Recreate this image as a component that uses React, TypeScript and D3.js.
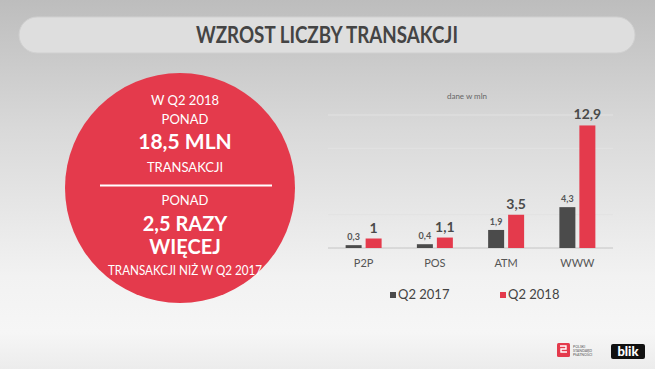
import React from "react";
import * as d3 from "d3";

// values (mln transactions)
const categories = ["P2P", "POS", "ATM", "WWW"];
const q2017 = [0.3, 0.4, 1.9, 4.3];
const q2018 = [1, 1.1, 3.5, 12.9];
const seriesNames = ["Q2 2017", "Q2 2018"];
const gridTicks = [0, 3.5, 7, 10.5, 14];

const W = 655;
const H = 369;
const DARK = "#4b4b4b";
const RED = "#e43a4c";
const FONT = "Lato, 'Open Sans', sans-serif";

const fmt = (v: number) => d3.format("~g")(v).replace(".", ",");

function App() {
  const x0 = d3
    .scaleBand<string>()
    .domain(categories)
    .range([328, 613])
    .paddingInner(0.495)
    .paddingOuter(0.2475);
  const x1 = d3
    .scaleBand<string>()
    .domain(seriesNames)
    .range([0, x0.bandwidth()])
    .paddingInner(0.2);
  const y = d3.scaleLinear().domain([0, 14]).range([248, 115]);

  const rows = categories.map((c, i) => ({ cat: c, vals: [q2017[i], q2018[i]] }));

  return (
    <div style={{ position: "fixed", left: 0, top: 0 }}>
      <svg width={W} height={H} style={{ display: "block" }}>
        <defs>
          <linearGradient id="bg" x1="0" y1="0" x2="0" y2="1">
            <stop offset="0%" stopColor="#bdbdbd" />
            <stop offset="35%" stopColor="#d9d9d9" />
            <stop offset="75%" stopColor="#f2f2f2" />
            <stop offset="90%" stopColor="#f6f6f6" />
            <stop offset="100%" stopColor="#ececec" />
          </linearGradient>
        </defs>
        <rect width={W} height={H} fill="url(#bg)" />

        {/* title pill */}
        <rect x={19} y={17} width={616} height={36} rx={18} fill="#dedede" stroke="#d0d0d0" />
        <text
          x={327}
          y={43}
          textAnchor="middle"
          fontFamily={FONT}
          fontWeight={700}
          fontSize={23}
          fill="#444"
          textLength={262}
          lengthAdjust="spacingAndGlyphs"
        >
          WZROST LICZBY TRANSAKCJI
        </text>

        {/* red circle */}
        <circle cx={180} cy={188} r={115} fill={RED} />
        <g fill="#fff" fontFamily={FONT} textAnchor="middle">
          <text x={185} y={105} fontSize={13}>W Q2 2018</text>
          <text x={185} y={124} fontSize={13}>PONAD</text>
          <text x={185} y={149} fontSize={21} fontWeight={700}>18,5 MLN</text>
          <text x={185} y={172} fontSize={13}>TRANSAKCJI</text>
          <line x1={100} x2={272} y1={185.5} y2={185.5} stroke="#fff" strokeWidth={2.2} />
          <text x={185} y={205} fontSize={13}>PONAD</text>
          <text x={185} y={231} fontSize={20} fontWeight={700}>2,5 RAZY</text>
          <text x={185} y={254} fontSize={20} fontWeight={700}>WIĘCEJ</text>
          <text x={185} y={275} fontSize={13} textLength={154} lengthAdjust="spacingAndGlyphs">
            TRANSAKCJI NIŻ W Q2 2017
          </text>
        </g>

        {/* chart */}
        <text x={467} y={99} textAnchor="middle" fontFamily={FONT} fontSize={8} fill="#666">
          dane w mln
        </text>
        {gridTicks.map((t) => (
          <line
            key={t}
            x1={328}
            x2={613}
            y1={y(t)}
            y2={y(t)}
            stroke={t === 0 ? "#c4c4c4" : "#e2e2e2"}
            strokeWidth={1}
          />
        ))}
        {rows.map((r) => (
          <g key={r.cat} transform={`translate(${x0(r.cat)},0)`}>
            {r.vals.map((v, j) => {
              const bx = x1(seriesNames[j])!;
              return (
                <g key={j}>
                  <rect
                    x={bx}
                    y={y(v)}
                    width={x1.bandwidth()}
                    height={y(0) - y(v)}
                    fill={j === 0 ? DARK : RED}
                  />
                  <text
                    x={bx + x1.bandwidth() / 2}
                    y={y(v) - (j === 0 ? 5 : 6)}
                    textAnchor="middle"
                    fontFamily={FONT}
                    fontWeight={700}
                    fontSize={j === 0 ? 9 : 14}
                    fill={j === 0 ? "#555" : "#4a4a4a"}
                  >
                    {fmt(v)}
                  </text>
                </g>
              );
            })}
            <text
              x={x0.bandwidth() / 2}
              y={267}
              textAnchor="middle"
              fontFamily={FONT}
              fontSize={11}
              fill="#555"
            >
              {r.cat}
            </text>
          </g>
        ))}

        {/* legend */}
        {seriesNames.map((s, i) => (
          <g key={s} transform={`translate(${390 + i * 110},292)`}>
            <rect width={6} height={6} fill={i === 0 ? DARK : RED} />
            <text x={8} y={7} fontFamily={FONT} fontSize={13} fill="#444">
              {s}
            </text>
          </g>
        ))}

        {/* logos */}
        <rect x={557} y={343} width={13} height={14} rx={1.5} fill={RED} />
        <path d="M560 346 h6 v3 h-5 v3 h6" stroke="#fff" strokeWidth={1.4} fill="none" />
        <g fontFamily={FONT} fontSize={3.6} fill="#555">
          <text x={573} y={348}>POLSKI</text>
          <text x={573} y={352}>STANDARD</text>
          <text x={573} y={356}>PŁATNOŚCI</text>
        </g>
        <rect x={611} y={344} width={34} height={15} rx={2} fill="#111" />
        <text x={628} y={355.5} textAnchor="middle" fontFamily={FONT} fontWeight={900} fontSize={13} fill="#fff">
          blik
        </text>
      </svg>
    </div>
  );
}

export default App;
